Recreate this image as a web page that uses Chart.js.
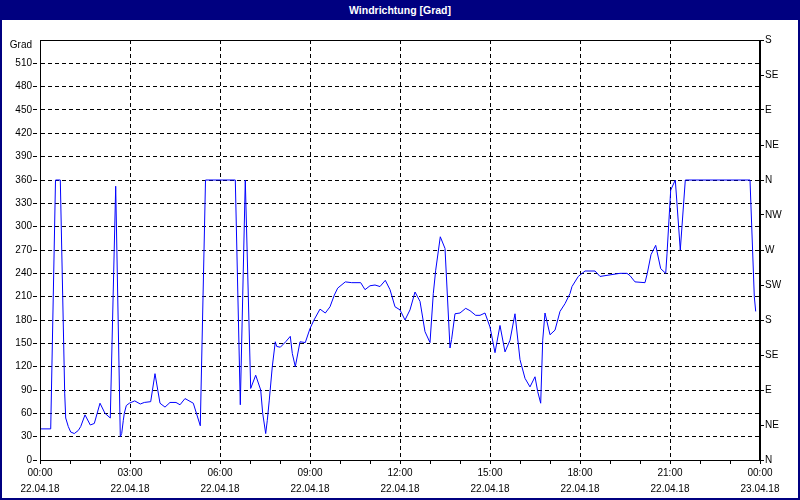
<!DOCTYPE html>
<html>
<head>
<meta charset="utf-8">
<script src="https://cdn.jsdelivr.net/npm/chart.js@4.4.1/dist/chart.umd.min.js"></script>
<style>
  body { margin: 0; background: #fff; }
  #wrap { position: relative; width: 800px; height: 500px; }
  #chart { display: block; }
  #title {
    position: absolute; left: 0; top: 0; width: 800px; height: 20px;
    background: #000080; color: #fff; text-align: center;
    font: bold 10.5px "Liberation Sans", sans-serif; line-height: 20px;
  }
  #frame {
    position: absolute; left: 0; top: 0; width: 800px; height: 500px;
    box-sizing: border-box; border: 2px solid #000080; pointer-events: none;
  }
</style>
</head>
<body>
<div id="wrap">
  <canvas id="chart" width="800" height="500"></canvas>
  <div id="title">Windrichtung [Grad]</div>
  <div id="frame"></div>
</div>
<script>
// time of day in hours (0 = 22.04.18 00:00)
const hours = [0, 0.357, 0.517, 0.677, 0.823, 0.857, 0.943, 1.023, 1.143, 1.277,
  1.357, 1.5, 1.677, 1.81, 2.0, 2.167, 2.343, 2.523, 2.677, 2.723,
  2.777, 2.81, 2.877, 2.977, 3.157, 3.343, 3.477, 3.69, 3.833, 4.0,
  4.167, 4.333, 4.533, 4.667, 4.833, 5.11, 5.343, 5.517, 6.51, 6.677,
  6.843, 7.023, 7.19, 7.357, 7.423, 7.523, 7.577, 7.643, 7.743, 7.843,
  7.89, 8.01, 8.19, 8.343, 8.41, 8.51, 8.667, 8.843, 9.0, 9.133,
  9.333, 9.51, 9.667, 9.81, 9.923, 10.177, 10.39, 10.69, 10.833, 11.0,
  11.167, 11.333, 11.51, 11.667, 11.833, 12.0, 12.167, 12.333, 12.5, 12.667,
  12.833, 13.0, 13.11, 13.19, 13.343, 13.5, 13.667, 13.72, 13.833, 14.0,
  14.19, 14.333, 14.523, 14.667, 14.833, 15.0, 15.167, 15.333, 15.5, 15.667,
  15.833, 16.0, 16.167, 16.333, 16.5, 16.59, 16.69, 16.757, 16.833, 17.0,
  17.167, 17.333, 17.5, 17.667, 17.733, 17.943, 18.167, 18.5, 18.667, 19.0,
  19.333, 19.567, 19.667, 19.833, 20.167, 20.243, 20.367, 20.523, 20.69, 20.857,
  20.9, 21.023, 21.177, 21.343, 21.51, 23.667, 23.81, 23.857];

// wind direction in degrees
const degrees = [40, 40, 360, 360, 86, 54, 43, 36, 34, 38,
  43, 58, 45, 47, 73, 60, 54, 352, 30, 34,
  51, 60, 70, 73, 76, 72, 74, 75, 111, 73,
  68, 74, 74, 71, 79, 73, 44, 360, 360, 71,
  360, 92, 109, 90, 60, 34, 51, 77, 120, 152,
  146, 145, 152, 159, 137, 120, 152, 151, 169, 180,
  194, 189, 197, 212, 221, 229, 228, 228, 219, 224,
  225, 223, 231, 219, 197, 193, 180, 193, 216, 204,
  165, 151, 214, 244, 287, 272, 144, 155, 188, 189,
  195, 192, 186, 186, 189, 171, 138, 173, 139, 154,
  188, 129, 105, 94, 107, 88, 73, 154, 189, 161,
  167, 191, 201, 214, 223, 236, 243, 243, 236, 238,
  240, 240, 237, 229, 228, 240, 264, 276, 246, 240,
  265, 347, 360, 270, 360, 360, 210, 191];

// x tick labels every 3 hours
const timeLabels = ["00:00", "03:00", "06:00", "09:00", "12:00", "15:00", "18:00", "21:00", "00:00"];
const dateLabels = ["22.04.18", "22.04.18", "22.04.18", "22.04.18", "22.04.18", "22.04.18", "22.04.18", "22.04.18", "23.04.18"];

// right axis compass labels every 45 degrees
const compass = ["N", "NE", "E", "SE", "S", "SW", "W", "NW"];

const tickFont = { family: "Liberation Sans", size: 10, lineHeight: 1.6 };
const unitFont = { family: "Liberation Sans", size: 10, lineHeight: 1.0 };
const dash = [4, 3];

// solid frame around the plot area
const plotFrame = {
  id: "plotFrame",
  afterDraw(chart) {
    const { ctx, chartArea: a } = chart;
    ctx.save();
    ctx.strokeStyle = "#000";
    ctx.lineWidth = 1;
    ctx.strokeRect(a.left + 0.5, a.top + 0.5, a.right - a.left - 1, a.bottom - a.top);
    ctx.restore();
  }
};

const isTop = c => c.tick && c.tick.value === 540;

new Chart(document.getElementById("chart"), {
  type: "line",
  data: {
    datasets: [{
      data: hours.map((h, i) => ({ x: h, y: degrees[i] })),
      borderColor: "#0000ff",
      borderWidth: 1,
      pointRadius: 0,
      tension: 0,
      fill: false
    }]
  },
  options: {
    responsive: false,
    animation: false,
    layout: { padding: { top: 40, left: 0, right: 0, bottom: 0 } },
    plugins: { legend: { display: false }, tooltip: { enabled: false } },
    scales: {
      x: {
        type: "linear",
        min: 0,
        max: 24,
        afterFit: s => { s.height = 40; },
        ticks: {
          stepSize: 1,
          autoSkip: false,
          maxRotation: 0,
          color: "#000",
          font: tickFont,
          padding: 1,
          callback: v => (v % 3 === 0 ? [timeLabels[v / 3], dateLabels[v / 3]] : "")
        },
        grid: {
          color: c => (c.tick && c.tick.value % 3 === 0 ? "#000" : "rgba(0,0,0,0)"),
          tickColor: "#000",
          tickLength: 4
        },
        border: { color: "#000", dash: dash }
      },
      y: {
        position: "left",
        min: 0,
        max: 540,
        afterFit: s => { s.width = 40; },
        ticks: {
          stepSize: 30,
          color: "#000",
          font: c => (isTop(c) ? unitFont : tickFont),
          padding: 1,
          // unit label sits just below the top line
          callback: v => (v === 540 ? ["", "Grad"] : v)
        },
        grid: {
          color: "#000",
          tickColor: c => (isTop(c) ? "rgba(0,0,0,0)" : "#000"),
          tickLength: 7,
          tickBorderDash: dash
        },
        border: { color: "#000", dash: dash }
      },
      y2: {
        position: "right",
        min: 0,
        max: 540,
        afterFit: s => { s.width = 40; },
        ticks: {
          stepSize: 45,
          color: "#000",
          font: tickFont,
          padding: 1,
          callback: v => compass[(v / 45) % 8]
        },
        grid: { drawOnChartArea: false, color: "#000", tickLength: 4 },
        border: { color: "#000" }
      }
    }
  },
  plugins: [plotFrame]
});
</script>
</body>
</html>
